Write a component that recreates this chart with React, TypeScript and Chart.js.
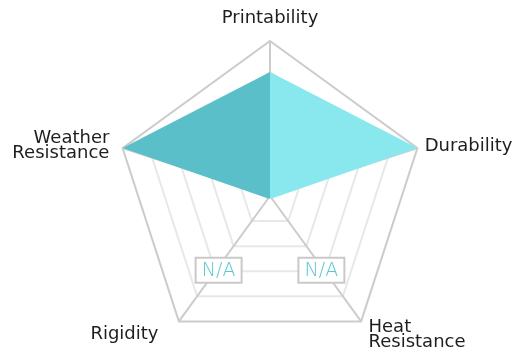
import React, { useEffect, useRef } from "react";
import { Chart, registerables } from "chart.js";

Chart.register(...registerables);

const categories: (string | string[])[] = [
  "Printability",
  "Durability",
  ["Heat", "Resistance"],
  "Rigidity",
  ["Weather", "Resistance"],
];
const scores: number[] = [0.8, 1, 0.02, 0.02, 1];
const naIndices: number[] = [2, 3];
const naLabel = "N/A";
const naLevel = 0.6;

// layout tweaks for the axis names (gap beyond the outer ring, then per-label nudge)
const LABEL_GAP = 16;
const labelNudges: [number, number][] = [
  [0, -7],
  [-8, 3],
  [-2, 0],
  [-11, 0],
  [2, 3],
];

const DARK = "#5bbfc9";
const LIGHT = "#89e8ee";
const LABEL_FONT = "18px 'DejaVu Sans'";
const LINE_H = 15;

const labelPlugin = {
  id: "axisNames",
  afterDraw(chart: any) {
    const scale = chart.scales.r;
    if (!scale) return;
    const ctx = chart.ctx;
    const labels = chart.data.labels as (string | string[])[];
    ctx.save();
    ctx.font = LABEL_FONT;
    ctx.fillStyle = "#1e1e1e";
    ctx.textBaseline = "middle";
    labels.forEach((lab, i) => {
      const lines = Array.isArray(lab) ? lab : [lab];
      const p = scale.getPointPosition(i, scale.drawingArea + LABEL_GAP);
      const dx = p.x - scale.xCenter;
      ctx.textAlign = Math.abs(dx) < 1 ? "center" : dx > 0 ? "left" : "right";
      const x = p.x + labelNudges[i][0];
      const yMid = p.y + labelNudges[i][1];
      const y0 = yMid - ((lines.length - 1) * LINE_H) / 2;
      lines.forEach((t, k) => ctx.fillText(t, x, y0 + k * LINE_H));
    });
    ctx.restore();
  },
};

const naPlugin = {
  id: "naBoxes",
  afterDraw(chart: any) {
    const scale = chart.scales.r;
    if (!scale) return;
    const ctx = chart.ctx;
    ctx.save();
    ctx.font = "200 19px 'DejaVu Sans'";
    ctx.textAlign = "center";
    ctx.textBaseline = "middle";
    naIndices.forEach((i) => {
      const p = scale.getPointPosition(i, scale.getDistanceFromCenterForValue(naLevel));
      const cx = scale.xCenter + (p.x - scale.xCenter) * 0.94;
      const cy = p.y - 1;
      const w = 46;
      const h = 25;
      ctx.fillStyle = "#ffffff";
      ctx.fillRect(cx - w / 2, cy - h / 2, w, h);
      ctx.lineWidth = 2;
      ctx.strokeStyle = "#c9c9c9";
      ctx.strokeRect(cx - w / 2, cy - h / 2, w, h);
      ctx.fillStyle = "#5cc6cf";
      ctx.fillText(naLabel, cx, cy + 1);
    });
    ctx.restore();
  },
};

export default function App() {
  const ref = useRef<HTMLCanvasElement>(null);
  useEffect(() => {
    if (!ref.current) return;
    const chart = new Chart(ref.current, {
      type: "radar",
      data: {
        labels: categories as any,
        datasets: [
          {
            data: scores,
            borderWidth: 0,
            pointRadius: 0,
            fill: true,
            backgroundColor: (c: any) => {
              const ch = c.chart;
              const s = ch.scales && ch.scales.r;
              if (!s || !Number.isFinite(s.xCenter)) return DARK;
              const g = ch.ctx.createLinearGradient(s.xCenter - 1, 0, s.xCenter + 1, 0);
              g.addColorStop(0, DARK);
              g.addColorStop(0.5, DARK);
              g.addColorStop(0.5, LIGHT);
              g.addColorStop(1, LIGHT);
              return g;
            },
          },
        ],
      },
      options: {
        responsive: false,
        animation: false,
        layout: { padding: { top: 41, bottom: -3, left: 22, right: 0 } },
        plugins: { legend: { display: false }, tooltip: { enabled: false } },
        scales: {
          r: {
            min: 0,
            max: 1,
            ticks: { display: false, stepSize: 0.2 },
            grid: {
              circular: false,
              lineWidth: 2,
              color: (c: any) => (c.index === 5 ? "#cccccc" : "#e8e8e8"),
            },
            angleLines: { color: "#cccccc", lineWidth: 2 },
            pointLabels: { display: false },
          },
        },
      },
      plugins: [naPlugin, labelPlugin],
    });
    return () => chart.destroy();
  }, []);
  return (
    <div style={{ position: "absolute", left: 0, top: 0, width: 518, height: 351 }}>
      <canvas ref={ref} width={518} height={351} />
    </div>
  );
}
